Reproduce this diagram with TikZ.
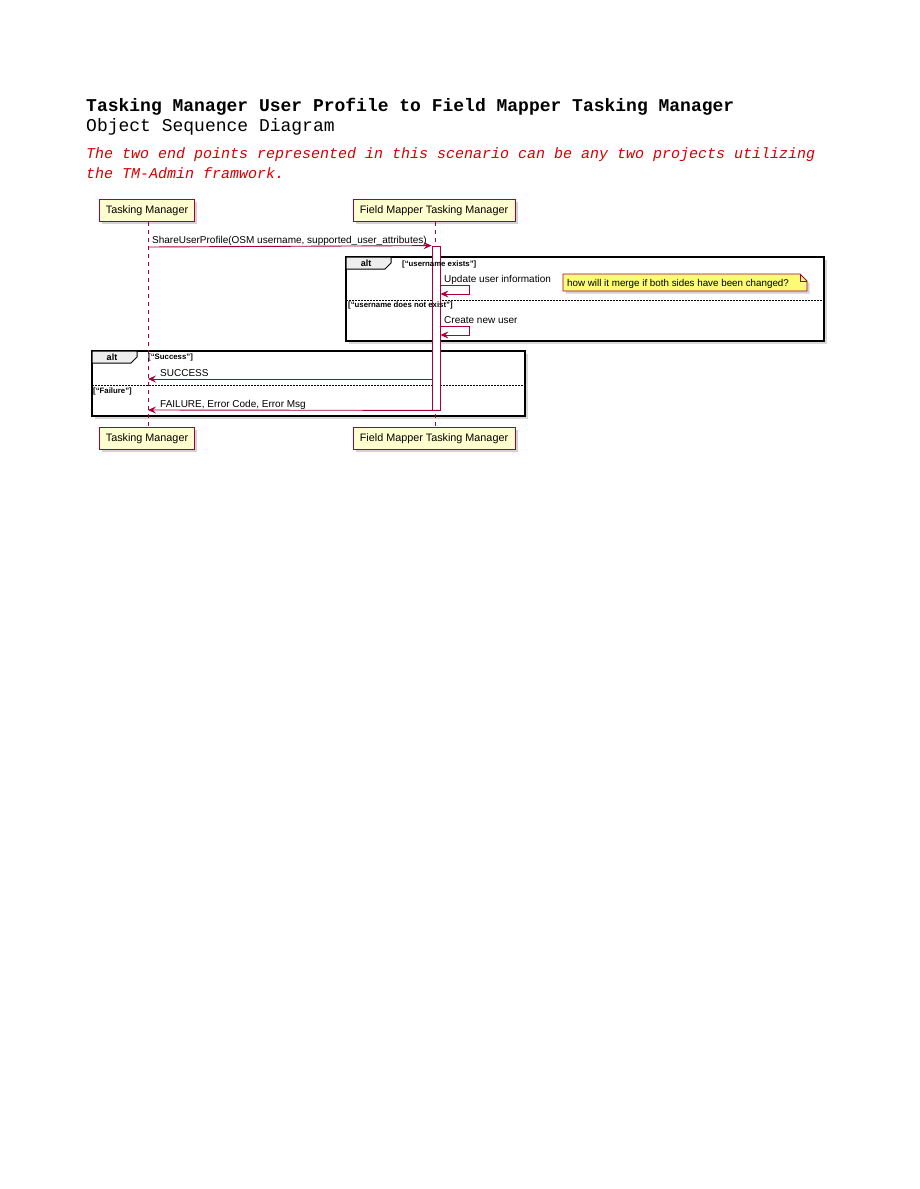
\documentclass[tikz,border=0pt]{standalone}
\usepackage{fontspec}
\setmainfont{Liberation Sans}
\newfontfamily\sansfam{Liberation Sans}
\newfontfamily\monofam{Liberation Mono}
\usetikzlibrary{arrows.meta,shadows,positioning}

\definecolor{umlred}{HTML}{A80036}
\definecolor{partfill}{HTML}{FEFECE}
\definecolor{notefill}{HTML}{FBFB77}
\definecolor{tabfill}{HTML}{EEEEEE}
\definecolor{remarkred}{RGB}{215,0,0}

\newcommand\msgfont{\sansfam\fontsize{10}{12}\selectfont}
\newcommand\partfont{\sansfam\fontsize{10.8}{13}\selectfont}
\newcommand\guardfont{\sansfam\bfseries\fontsize{7.8}{9}\selectfont}

\begin{document}
\begin{tikzpicture}[x=1pt,y=-1pt,
    participant/.style={rectangle,draw=umlred,fill=partfill,line width=1pt,
      minimum height=22pt,inner xsep=5pt,font=\partfont,
      drop shadow={shadow xshift=2.5pt,shadow yshift=-2.5pt,fill=black!35}},
    lifeline/.style={draw=umlred,dash pattern=on 4pt off 4pt,line width=0.8pt},
    actbar/.style={rectangle,draw=umlred,fill=white,line width=0.8pt,
      minimum width=8pt,inner sep=0pt},
    msg/.style={draw=umlred,line width=0.9pt,
      -{Stealth[length=8pt,width=7pt,inset=3pt]}},
    msglabel/.style={font=\msgfont,anchor=base west,inner sep=0pt},
    guard/.style={font=\guardfont,anchor=west,inner sep=0pt},
    altframe/.style={draw=black,line width=1.6pt,fill=white,
      drop shadow={shadow xshift=3pt,shadow yshift=-3pt,fill=black!30}},
    alttab/.style={draw=black,line width=1pt,fill=tabfill},
    separator/.style={draw=black,line width=0.5pt,dash pattern=on 1.5pt off 1.5pt}]

  \useasboundingbox[fill=white] (0,0) rectangle (919,1189);

  % heading
  \node[anchor=base west,inner sep=0pt,font=\monofam\bfseries\fontsize{18}{20}\selectfont]
    (title) at (86,111) {Tasking Manager User Profile to Field Mapper Tasking Manager};
  \node[anchor=base west,inner sep=0pt,font=\monofam\fontsize{18}{20}\selectfont]
    (subtitle) at (86,131) {Object Sequence Diagram};
  \node[anchor=base west,inner sep=0pt,text=remarkred,font=\monofam\itshape\fontsize{15}{17}\selectfont]
    (remark1) at (86,158) {The two end points represented in this scenario can be any two projects utilizing};
  \node[anchor=base west,inner sep=0pt,text=remarkred,font=\monofam\itshape\fontsize{15}{17}\selectfont]
    (remark2) at (86,178) {the TM-Admin framwork.};

  % alt frames
  \draw[altframe] (346,257) rectangle (824,341);
  \draw[alttab] (346,257) -- (391,257) -- (391,263) -- (385,269) -- (346,269) -- cycle;
  \node[font=\sansfam\bfseries\fontsize{9}{10}\selectfont] (alt1) at (366,263) {alt};
  \draw[separator] (346,300) -- (824,300);

  \draw[altframe] (92,351) rectangle (525,416);
  \draw[alttab] (92,351) -- (137,351) -- (137,357) -- (131,363) -- (92,363) -- cycle;
  \node[font=\sansfam\bfseries\fontsize{9}{10}\selectfont] (alt2) at (112,357) {alt};
  \draw[separator] (92,385) -- (525,385);

  % participants
  \begin{scope}[every node/.style={participant}]
    \node[minimum width=95pt]  (tm)   at (147,210.5) {Tasking Manager};
    \node[minimum width=162pt] (fmtm) at (434,210.5) {Field Mapper Tasking Manager};
    \node[minimum width=95pt]  (tmb)  at (147,438.5) {Tasking Manager};
    \node[minimum width=162pt] (fmtmb) at (434,438.5) {Field Mapper Tasking Manager};
  \end{scope}

  \draw[lifeline] ([xshift=1pt]tm.south) -- ([xshift=1pt]tmb.north);
  \draw[lifeline] ([xshift=1pt]fmtm.south) -- ([xshift=1pt]fmtmb.north);

  \node[actbar,minimum height=164pt] (bar) at (436,328) {};

  % guards
  \node[guard] (g1) at (402,264) {[“username exists”]};
  \node[guard] (g2) at (348,305) {[“username does not exist”]};
  \node[guard] (g3) at (148,357) {[“Success”]};
  \node[guard] (g4) at (93,391) {[“Failure”]};

  % messages
  \coordinate (call) at (148,247);
  \coordinate (self1) at (bar.east |- 0,285);
  \coordinate (self2) at (bar.east |- 0,326);
  \coordinate (ok) at (148,379);
  \coordinate (fail) at (148,410);

  \draw[msg] (call) -- (bar.north west);
  \node[msglabel] (m1) at (152,243) {ShareUserProfile(OSM username, supported\_user\_attributes)};

  \draw[msg] (self1) -- ++(29,0) -- ++(0,9) -- ++(-29,0);
  \node[msglabel] (m2) at (444,282) {Update user information};

  \draw[msg] (self2) -- ++(29,0) -- ++(0,9) -- ++(-29,0);
  \node[msglabel] (m3) at (444,323) {Create new user};

  \draw[msg] (bar.west |- ok) -- (ok);
  \node[msglabel] (m4) at (160,376) {SUCCESS};

  \draw[msg] (bar.south east) -- (fail);
  \node[msglabel] (m5) at (160,407) {FAILURE, Error Code, Error Msg};

  % note
  \draw[draw=umlred,fill=notefill,line width=0.8pt,
    drop shadow={shadow xshift=2.5pt,shadow yshift=-2.5pt,fill=black!35}]
    (563,274) -- (800,274) -- (807,281) -- (807,291) -- (563,291) -- cycle;
  \draw[draw=umlred,line width=0.8pt] (800,274) -- (800,281) -- (807,281);
  \node[msglabel,font=\sansfam\fontsize{9.8}{11}\selectfont] (note) at (567,286)
    {how will it merge if both sides have been changed?};

\end{tikzpicture}
\end{document}
